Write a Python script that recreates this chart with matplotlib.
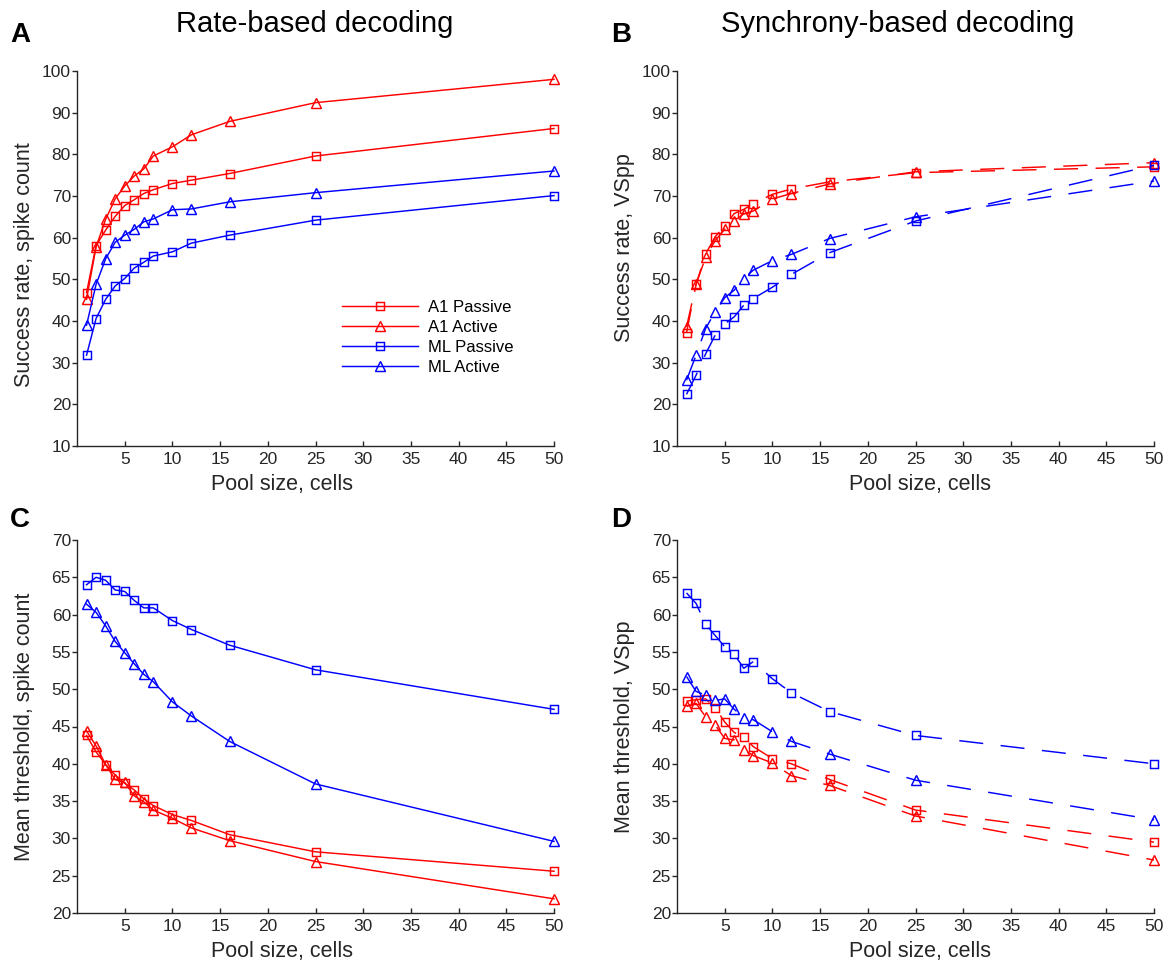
"""Four-panel pool-size decoding figure (rate vs synchrony, success and threshold)."""

import matplotlib

matplotlib.use("Agg")

import matplotlib.pyplot as plt  # noqa: E402

plt.rcParams["font.family"] = ["Liberation Sans", "DejaVu Sans"]

W, H = 1165, 966

pool_sizes = [1, 2, 3, 4, 5, 6, 7, 8, 10, 12, 16, 25, 50]
series_names = ["A1 Passive", "A1 Active", "ML Passive", "ML Active"]

# A: rate-based success rate (spike count)
rate_success_a1_passive = [46.8, 58.1, 61.8, 65.1, 67.7, 69.1, 70.6, 71.5, 73.0, 73.8, 75.4, 79.6, 86.2]
rate_success_a1_active = [45.2, 57.8, 64.4, 69.3, 72.4, 74.8, 76.5, 79.6, 81.8, 84.7, 87.9, 92.4, 98.0]
rate_success_ml_passive = [31.8, 40.6, 45.2, 48.4, 50.2, 52.7, 54.1, 55.6, 56.6, 58.7, 60.6, 64.2, 70.1]
rate_success_ml_active = [39.0, 48.8, 54.9, 58.9, 60.6, 62.0, 63.8, 64.5, 66.7, 66.9, 68.6, 70.8, 76.0]

# B: synchrony-based success rate (VSpp)
sync_success_a1_passive = [37.2, 48.8, 56.1, 60.2, 62.9, 65.8, 66.8, 68.2, 70.4, 71.7, 73.4, 75.6, 77.0]
sync_success_a1_active = [38.6, 48.8, 55.3, 59.3, 62.0, 64.1, 65.7, 66.4, 69.3, 70.6, 72.9, 75.8, 78.0]
sync_success_ml_passive = [22.4, 27.0, 32.1, 36.6, 39.3, 41.0, 43.8, 45.4, 48.1, 51.2, 56.4, 64.0, 77.4]
sync_success_ml_active = [25.8, 31.8, 38.2, 42.2, 45.6, 47.4, 50.2, 52.2, 54.5, 56.0, 59.8, 65.0, 73.6]

# C: rate-based mean threshold (spike count)
rate_thresh_a1_passive = [43.8, 41.6, 39.9, 38.5, 37.4, 36.5, 35.3, 34.4, 33.2, 32.4, 30.5, 28.2, 25.6]
rate_thresh_a1_active = [44.4, 42.4, 39.9, 37.9, 37.5, 35.7, 34.9, 33.8, 32.7, 31.4, 29.7, 26.9, 21.9]
rate_thresh_ml_passive = [64.0, 65.0, 64.6, 63.3, 63.1, 61.9, 60.9, 60.9, 59.2, 58.0, 55.9, 52.6, 47.3]
rate_thresh_ml_active = [61.4, 60.3, 58.5, 56.4, 54.9, 53.4, 52.0, 51.0, 48.3, 46.4, 43.0, 37.3, 29.6]

# D: synchrony-based mean threshold (VSpp)
sync_thresh_a1_passive = [48.4, 48.6, 48.7, 47.5, 45.6, 44.2, 43.6, 42.3, 40.7, 40.0, 37.9, 33.8, 29.5]
sync_thresh_a1_active = [47.7, 48.1, 46.3, 45.2, 43.4, 43.2, 41.9, 41.1, 40.1, 38.4, 37.1, 33.0, 27.1]
sync_thresh_ml_passive = [62.9, 61.5, 58.7, 57.2, 55.7, 54.7, 52.8, 53.7, 51.4, 49.5, 47.0, 43.8, 40.0]
sync_thresh_ml_active = [51.7, 49.7, 49.2, 48.5, 48.7, 47.3, 46.2, 45.9, 44.3, 43.0, 41.3, 37.8, 32.5]

COLORS = ["#ff0000", "#ff0000", "#0000ff", "#0000ff"]
MARKERS = ["s", "^", "s", "^"]
MSIZE = [5.2, 7.5, 5.2, 7.5]
DASH = (0, (16.5, 12))
AX_COLOR = "#262626"


def px_axes(fig, left, top, right, bottom):
    """Axes from pixel edges (origin top-left)."""
    return fig.add_axes([left / W, 1 - bottom / H, (right - left) / W, (bottom - top) / H])


def draw_panel(ax, curves, ylim, yticks, ylabel, dashed, xlab_x, ylab_y):
    for vals, name, c, m, ms in zip(curves, series_names, COLORS, MARKERS, MSIZE):
        ax.plot(pool_sizes, vals, color=c, lw=1.05, marker=m, ms=ms, mfc="none",
                mec=c, mew=1.05, ls=DASH if dashed else "-", label=name, clip_on=False)
    ax.set_xlim(0, 50)
    ax.set_ylim(*ylim)
    ax.set_xticks(range(5, 51, 5))
    ax.set_yticks(yticks)
    for side in ("top", "right"):
        ax.spines[side].set_visible(False)
    for side in ("left", "bottom"):
        ax.spines[side].set_color(AX_COLOR)
        ax.spines[side].set_linewidth(1.0)
    ax.tick_params(axis="y", direction="out", length=3.6, width=1.0, pad=0.8,
                   colors=AX_COLOR, labelsize=12.5)
    ax.tick_params(axis="x", direction="in", length=3.4, width=1.0, pad=4.0,
                   colors=AX_COLOR, labelsize=12.5)
    ax.set_xlabel("Pool size, cells", fontsize=15.5, color=AX_COLOR)
    ax.set_ylabel(ylabel, fontsize=15.5, color=AX_COLOR)
    ax.xaxis.set_label_coords(xlab_x, -0.075)
    ax.yaxis.set_label_coords(-0.088, ylab_y)


fig = plt.figure(figsize=(W / 100, H / 100), dpi=100)

ax_a = px_axes(fig, 77, 71, 554, 446)
ax_b = px_axes(fig, 677, 71, 1154, 446)
ax_c = px_axes(fig, 77, 540, 554, 913)
ax_d = px_axes(fig, 677, 540, 1154, 913)

draw_panel(ax_a, [rate_success_a1_passive, rate_success_a1_active,
                  rate_success_ml_passive, rate_success_ml_active],
           (10, 100), range(10, 101, 10), "Success rate, spike count", False, 0.43, 0.483)
draw_panel(ax_b, [sync_success_a1_passive, sync_success_a1_active,
                  sync_success_ml_passive, sync_success_ml_active],
           (10, 100), range(10, 101, 10), "Success rate, VSpp", True, 0.51, 0.528)
draw_panel(ax_c, [rate_thresh_a1_passive, rate_thresh_a1_active,
                  rate_thresh_ml_passive, rate_thresh_ml_active],
           (20, 70), range(20, 71, 5), "Mean threshold, spike count", False, 0.43, 0.5)
draw_panel(ax_d, [sync_thresh_a1_passive, sync_thresh_a1_active,
                  sync_thresh_ml_passive, sync_thresh_ml_active],
           (20, 70), range(20, 71, 5), "Mean threshold, VSpp", True, 0.51, 0.5)

ax_a.legend(loc="upper left", bbox_to_anchor=(0.555, 0.389), frameon=False,
            fontsize=12, handlelength=4.6, handletextpad=0.55, labelspacing=0.3,
            borderpad=0, borderaxespad=0)

fig.text(315 / W, 1 - 32 / H, "Rate-based decoding", ha="center", va="baseline", fontsize=21)
fig.text(898 / W, 1 - 32 / H, "Synchrony-based decoding", ha="center", va="baseline", fontsize=21)
for letter, x, y in [("A", 10, 42), ("B", 611, 42), ("C", 10, 527), ("D", 611, 527)]:
    fig.text(x / W, 1 - y / H, letter, ha="left", va="baseline", fontsize=20, fontweight="bold")

fig.savefig("out.png", dpi=100)
plt.close(fig)
